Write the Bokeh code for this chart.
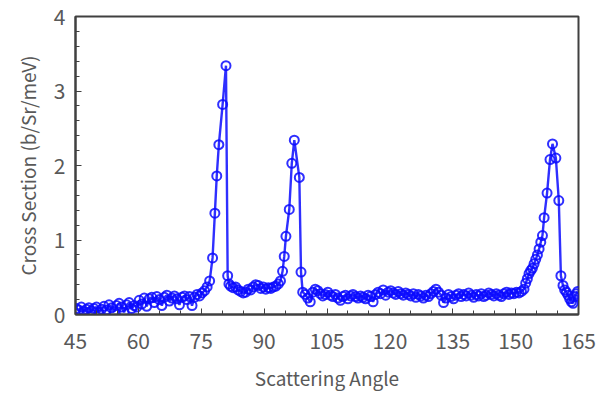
from bokeh.plotting import figure
from bokeh.models import SingleIntervalTicker, Range1d
from bokeh.embed import file_html
from bokeh.resources import INLINE

# Segment: low-angle background
x_a = [45.2, 45.8, 46.4, 47.0, 47.6, 48.2, 48.8, 49.4, 50.0, 50.6,
       51.2, 51.8, 52.4, 53.0, 53.6, 54.2, 54.8, 55.4, 56.0, 56.6,
       57.2, 57.8, 58.4, 59.0, 59.6, 60.2, 60.8, 61.4, 62.0, 62.6,
       63.2, 63.8, 64.4, 65.0, 65.6, 66.2, 66.8, 67.4, 68.0, 68.6,
       69.2, 69.8, 70.4, 71.0, 71.6, 72.2, 72.8, 73.4, 74.0, 74.6,
       75.2, 75.8, 76.4, 77.0]
y_a = [0.08, 0.06, 0.10, 0.04, 0.07, 0.09, 0.05, 0.08, 0.10, 0.03,
       0.07, 0.11, 0.06, 0.13, 0.09, 0.04, 0.12, 0.15, 0.10, 0.03,
       0.13, 0.16, 0.08, 0.12, 0.10, 0.19, 0.14, 0.22, 0.11, 0.21,
       0.23, 0.16, 0.24, 0.20, 0.12, 0.23, 0.26, 0.18, 0.22, 0.25,
       0.21, 0.13, 0.23, 0.25, 0.20, 0.24, 0.12, 0.23, 0.27, 0.25,
       0.29, 0.32, 0.37, 0.45]

# Peak 1
x_p1 = [77.7, 78.25, 78.7, 79.2, 80.1, 80.9, 81.3, 81.6]
y_p1 = [0.76, 1.36, 1.86, 2.28, 2.82, 3.34, 0.52, 0.41]

# Between peaks 1 and 2
x_b = [82.0, 82.6, 83.2, 83.8, 84.4, 85.0, 85.6, 86.2, 86.8, 87.4,
       88.0, 88.6, 89.2, 89.8, 90.4, 91.0, 91.6, 92.2, 92.8, 93.4, 93.9]
y_b = [0.38, 0.36, 0.37, 0.33, 0.31, 0.29, 0.30, 0.34, 0.33, 0.37,
       0.40, 0.39, 0.35, 0.37, 0.34, 0.36, 0.35, 0.37, 0.38, 0.41, 0.45]

# Peak 2
x_p2 = [94.4, 94.8, 95.2, 96.0, 96.6, 97.2, 98.4, 98.8, 99.2]
y_p2 = [0.58, 0.78, 1.05, 1.41, 2.03, 2.34, 1.84, 0.57, 0.30]

# Mid-angle background
x_c = [99.8, 100.4, 101.0, 101.6, 102.2, 102.8, 103.4, 104.0, 104.6, 105.2,
       105.8, 106.4, 107.0, 107.6, 108.2, 108.8, 109.4, 110.0, 110.6, 111.2,
       111.8, 112.4, 113.0, 113.6, 114.2, 114.8, 115.4, 116.0, 116.6, 117.2,
       117.8, 118.4, 119.0, 119.6, 120.2, 120.8, 121.4, 122.0, 122.6, 123.2,
       123.8, 124.4, 125.0, 125.6, 126.2, 126.8, 127.4, 128.0, 128.6, 129.2,
       129.8, 130.4, 131.0, 131.6, 132.2, 132.8, 133.4, 134.0, 134.6, 135.2,
       135.8, 136.4, 137.0, 137.6, 138.2, 138.8, 139.4, 140.0, 140.6, 141.2,
       141.8, 142.4, 143.0, 143.6, 144.2, 144.8, 145.4, 146.0, 146.6, 147.2,
       147.8, 148.4, 149.0, 149.6, 150.2, 150.8, 151.4]
y_c = [0.27, 0.22, 0.17, 0.30, 0.34, 0.32, 0.28, 0.25, 0.27, 0.30,
       0.26, 0.24, 0.27, 0.22, 0.19, 0.24, 0.26, 0.21, 0.25, 0.27,
       0.24, 0.22, 0.25, 0.23, 0.21, 0.26, 0.24, 0.17, 0.27, 0.30,
       0.28, 0.33, 0.26, 0.30, 0.32, 0.29, 0.27, 0.31, 0.28, 0.26,
       0.29, 0.27, 0.25, 0.28, 0.23, 0.27, 0.25, 0.22, 0.26, 0.24,
       0.28, 0.31, 0.34, 0.30, 0.26, 0.16, 0.22, 0.27, 0.24, 0.21,
       0.26, 0.28, 0.24, 0.27, 0.25, 0.29, 0.26, 0.23, 0.27, 0.25,
       0.28, 0.24, 0.26, 0.29, 0.27, 0.25, 0.28, 0.26, 0.24, 0.28,
       0.30, 0.27, 0.29, 0.28, 0.30, 0.29, 0.31]

# Peak 3 and tail
x_p3 = [152.0, 152.4, 152.8, 153.2, 153.6, 154.0, 154.4, 154.8, 155.2, 155.6,
        156.0, 156.4, 156.8, 157.5, 158.2, 158.8, 159.6, 160.3, 160.8, 161.3,
        161.7, 162.1, 162.5, 162.9, 163.3, 163.7, 164.1, 164.5, 164.8]
y_p3 = [0.34, 0.42, 0.48, 0.55, 0.59, 0.62, 0.68, 0.74, 0.80, 0.88,
        0.97, 1.06, 1.30, 1.63, 2.08, 2.29, 2.10, 1.53, 0.52, 0.39,
        0.33, 0.30, 0.26, 0.21, 0.17, 0.15, 0.24, 0.28, 0.31]

xs = x_a + x_p1 + x_b + x_p2 + x_c + x_p3
ys = y_a + y_p1 + y_b + y_p2 + y_c + y_p3
assert len(xs) == len(ys), (len(xs), len(ys))

FONT = "Noto Sans CJK JP"
GREY = "#595959"
BLUE = "#0a0aff"

p = figure(width=600, height=398, output_backend="svg", toolbar_location=None,
           x_range=Range1d(45, 165), y_range=Range1d(0, 4),
           min_border_left=75, min_border_right=22, min_border_top=16,
           min_border_bottom=84)
p.background_fill_color = "white"
p.border_fill_color = "white"
p.outline_line_color = "#404040"
p.outline_line_width = 2
p.xgrid.visible = False
p.ygrid.visible = False

p.line(xs, ys, line_color=BLUE, line_width=2.4, line_alpha=0.85)
p.scatter(xs, ys, marker="circle", size=9, line_color=BLUE,
          line_width=2, fill_color=None, line_alpha=0.85)

p.xaxis.ticker = SingleIntervalTicker(interval=15, num_minor_ticks=3)
p.yaxis.ticker = SingleIntervalTicker(interval=1, num_minor_ticks=5)

for ax in (p.xaxis[0], p.yaxis[0]):
    ax.axis_line_color = "#404040"
    ax.axis_line_width = 2
    ax.major_tick_in = 6
    ax.major_tick_out = 0
    ax.minor_tick_in = 4
    ax.minor_tick_out = 0
    ax.major_tick_line_color = "#404040"
    ax.minor_tick_line_color = "#404040"
    ax.major_label_text_font = FONT
    ax.major_label_text_font_size = "21px"
    ax.major_label_text_color = GREY
    ax.axis_label_text_font = FONT
    ax.axis_label_text_font_size = "19px"
    ax.axis_label_text_font_style = "normal"
    ax.axis_label_text_color = GREY

p.xaxis.axis_label = "Scattering Angle"
p.yaxis.axis_label = "Cross Section (b/Sr/meV)"
p.xaxis.major_label_standoff = 18
p.yaxis.major_label_standoff = 10
p.xaxis.axis_label_standoff = 12
p.yaxis.axis_label_standoff = 10

open("out.html", "w").write(file_html(p, INLINE))
